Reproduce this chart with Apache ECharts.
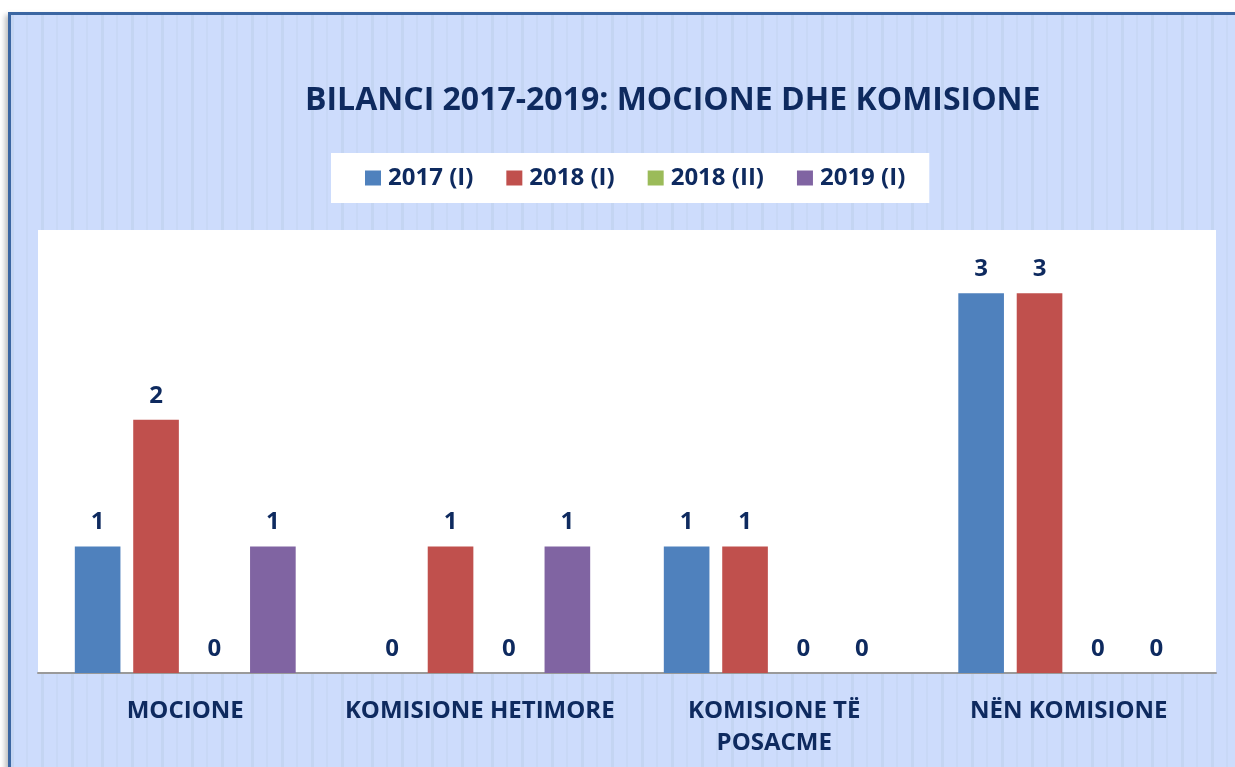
<!DOCTYPE html>
<html>
<head>
<meta charset="utf-8">
<script src="https://cdn.jsdelivr.net/npm/echarts@6/dist/echarts.min.js"></script>
<style>
  html, body { margin: 0; padding: 0; background: #fff; overflow: hidden; }
  #frame {
    position: absolute; left: 8px; top: 12px; width: 1240px; height: 770px;
    border-left: 3px solid #3b66a2; border-top: 3px solid #3b66a2;
    box-shadow: -3px 3px 5px rgba(0,0,0,0.25);
    background-color: #cddcfc;
    background-image: repeating-linear-gradient(90deg,
      #c4d5f2 0px, #c4d5f2 3px, #cddcfc 3px, #cddcfc 15px,
      #c8d8f6 15px, #c8d8f6 17px, #cddcfc 17px, #cddcfc 30px);
  }
  #chart { position: absolute; left: 0; top: 0; width: 1235px; height: 767px; }
</style>
</head>
<body>
<div id="frame"></div>
<div id="chart"></div>
<script>
const categories = ["MOCIONE", "KOMISIONE HETIMORE", "KOMISIONE TË\nPOSACME", "NËN KOMISIONE"];
const seriesNames = ["2017 (I)", "2018 (I)", "2018 (II)", "2019 (I)"];
const values2017I = [1, 0, 1, 3];
const values2018I = [2, 1, 1, 3];
const values2018II = [0, 0, 0, 0];
const values2019I = [1, 1, 0, 0];
const colors = ["#4f81bd", "#c0504d", "#9bbb59", "#8064a2"];

const navy = "#0e2a5f";
const font = "'Open Sans', 'Noto Sans', sans-serif";

const chart = echarts.init(document.getElementById("chart"));
const allValues = [values2017I, values2018I, values2018II, values2019I];

chart.setOption({
  backgroundColor: "transparent",
  title: {
    text: "BILANCI 2017-2019: MOCIONE DHE KOMISIONE",
    left: 300, top: 80,
    textStyle: { color: navy, fontFamily: font, fontWeight: "bold", fontSize: 32 },
  },
  legend: {
    data: seriesNames,
    left: 331, top: 153,
    padding: [13, 24, 13, 34],
    backgroundColor: "#fff",
    itemWidth: 16, itemHeight: 15, itemGap: 33,
    icon: "rect",
    textStyle: {
      color: navy, fontFamily: font, fontWeight: "bold", fontSize: 24,
      padding: [0, 0, 0, 2],
    },
  },
  grid: {
    left: 38, right: 19, top: 230, bottom: 94,
    show: true, backgroundColor: "#fff", borderWidth: 0,
  },
  xAxis: {
    type: "category",
    data: categories,
    axisLine: { lineStyle: { color: "#9a9a9a", width: 2 } },
    axisTick: { show: false },
    axisLabel: {
      color: navy, fontFamily: font, fontWeight: "bold", fontSize: 24,
      margin: 22, lineHeight: 32, interval: 0,
    },
  },
  yAxis: {
    type: "value", min: 0, max: 3.5,
    show: false, splitLine: { show: false },
  },
  series: seriesNames.map((name, i) => ({
    name,
    type: "bar",
    data: allValues[i],
    barCategoryGap: "25%",
    barGap: "28%",
    itemStyle: { color: colors[i] },
    label: {
      show: true, position: "top", distance: 12,
      color: navy, fontFamily: font, fontWeight: "bold", fontSize: 24,
    },
  })),
});
</script>
</body>
</html>
